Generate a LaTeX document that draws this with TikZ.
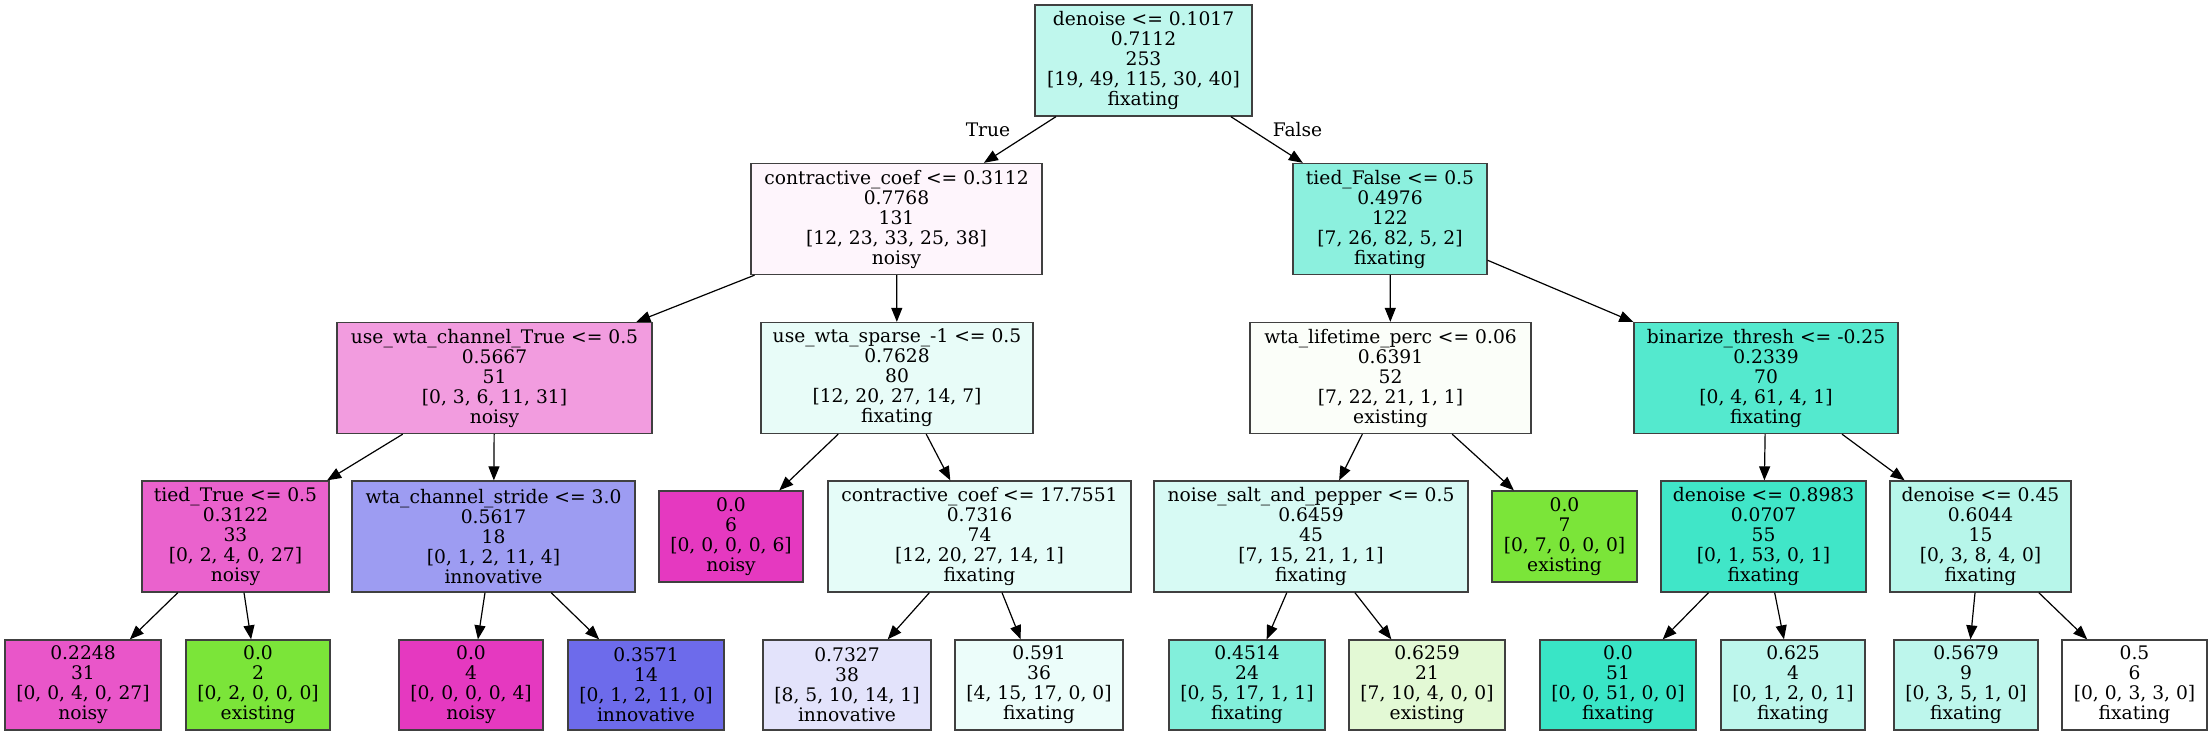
\documentclass[tikz,border=0pt]{standalone}
\usepackage{fontspec}
\setmainfont{DejaVu Serif}
\usetikzlibrary{arrows.meta}
\definecolor{fixc}{RGB}{57,229,198}
\definecolor{noic}{RGB}{229,57,192}
\definecolor{exic}{RGB}{123,229,57}
\definecolor{innc}{RGB}{60,57,229}
\begin{document}
\begin{tikzpicture}[x=1pt,y=-1pt,
  box/.style={draw=black!75, line width=1.3pt, inner sep=0pt, align=center,
    font=\fontsize{18.67}{20}\selectfont, minimum height=111pt},
  leaf/.style={box, minimum height=90pt},
  edge/.style={line width=1.2pt, -{Triangle[length=14pt,width=11pt]}},
  lbl/.style={font=\fontsize{18.67}{20}\selectfont, inner sep=0pt}]
\useasboundingbox (0,0) rectangle (2211,736);
% level 0
\node[box, minimum width=217pt, fill=fixc!32.4!white] (n0) at (1143.5,60.5)
  {denoise <= 0.1017\\0.7112\\253\\{}[19, 49, 115, 30, 40]\\fixating};
% level 1
\node[box, minimum width=291pt, fill=noic!5.1!white] (cc1) at (896.5,219)
  {contractive\_coef <= 0.3112\\0.7768\\131\\{}[12, 23, 33, 25, 38]\\noisy};
\node[box, minimum width=194pt, fill=fixc!58.3!white] (tf) at (1390,219)
  {tied\_False <= 0.5\\0.4976\\122\\{}[7, 26, 82, 5, 2]\\fixating};
% level 2
\node[box, minimum width=315pt, fill=noic!50!white] (uwc) at (494.5,378)
  {use\_wta\_channel\_True <= 0.5\\0.5667\\51\\{}[0, 3, 6, 11, 31]\\noisy};
\node[box, minimum width=272pt, fill=fixc!11.7!white] (uws) at (897,378)
  {use\_wta\_sparse\_-1 <= 0.5\\0.7628\\80\\{}[12, 20, 27, 14, 7]\\fixating};
\node[box, minimum width=281pt, fill=exic!3.2!white] (wlp) at (1390.5,378)
  {wta\_lifetime\_perc <= 0.06\\0.6391\\52\\{}[7, 22, 21, 1, 1]\\existing};
\node[box, minimum width=264pt, fill=fixc!86.4!white] (bt) at (1766,378)
  {binarize\_thresh <= -0.25\\0.2339\\70\\{}[0, 4, 61, 4, 1]\\fixating};
% level 3
\node[box, minimum width=187pt, fill=noic!79.3!white] (tt) at (235.5,536.5)
  {tied\_True <= 0.5\\0.3122\\33\\{}[0, 2, 4, 0, 27]\\noisy};
\node[box, minimum width=283pt, fill=innc!50!white] (wcs) at (493.5,536.5)
  {wta\_channel\_stride <= 3.0\\0.5617\\18\\{}[0, 1, 2, 11, 4]\\innovative};
\node[leaf, minimum width=144pt, minimum height=91pt, fill=noic] (l06) at (731,536.5)
  {0.0\\6\\{}[0, 0, 0, 0, 6]\\noisy};
\node[box, minimum width=303pt, fill=fixc!13!white] (cc2) at (979.5,536.5)
  {contractive\_coef <= 17.7551\\0.7316\\74\\{}[12, 20, 27, 14, 1]\\fixating};
\node[box, minimum width=314pt, fill=fixc!20!white] (nsp) at (1311,536.5)
  {noise\_salt\_and\_pepper <= 0.5\\0.6459\\45\\{}[7, 15, 21, 1, 1]\\fixating};
\node[leaf, minimum width=145pt, minimum height=91pt, fill=exic] (l07) at (1564.5,536.5)
  {0.0\\7\\{}[0, 7, 0, 0, 0]\\existing};
\node[box, minimum width=205pt, fill=fixc!96.3!white] (d1) at (1763.5,536.5)
  {denoise <= 0.8983\\0.0707\\55\\{}[0, 1, 53, 0, 1]\\fixating};
\node[box, minimum width=181pt, fill=fixc!36.4!white] (d2) at (1980.5,536.5)
  {denoise <= 0.45\\0.6044\\15\\{}[0, 3, 8, 4, 0]\\fixating};
% level 4
\node[leaf, minimum width=156pt, fill=noic!85.2!white] (a1) at (83,685)
  {0.2248\\31\\{}[0, 0, 4, 0, 27]\\noisy};
\node[leaf, minimum width=144pt, fill=exic] (a2) at (258,685)
  {0.0\\2\\{}[0, 2, 0, 0, 0]\\existing};
\node[leaf, minimum width=144pt, fill=noic] (a3) at (471,685)
  {0.0\\4\\{}[0, 0, 0, 0, 4]\\noisy};
\node[leaf, minimum width=156pt, fill=innc!75!white] (a4) at (646,685)
  {0.3571\\14\\{}[0, 1, 2, 11, 0]\\innovative};
\node[leaf, minimum width=168pt, fill=innc!14.3!white] (a5) at (847,685)
  {0.7327\\38\\{}[8, 5, 10, 14, 1]\\innovative};
\node[leaf, minimum width=168pt, fill=fixc!9.5!white] (a6) at (1039,685)
  {0.591\\36\\{}[4, 15, 17, 0, 0]\\fixating};
\node[leaf, minimum width=156pt, fill=fixc!63.2!white] (a7) at (1247,685)
  {0.4514\\24\\{}[0, 5, 17, 1, 1]\\fixating};
\node[leaf, minimum width=156pt, fill=exic!21.4!white] (a8) at (1427,685)
  {0.6259\\21\\{}[7, 10, 4, 0, 0]\\existing};
\node[leaf, minimum width=156pt, fill=fixc] (a9) at (1618,685)
  {0.0\\51\\{}[0, 0, 51, 0, 0]\\fixating};
\node[leaf, minimum width=144pt, fill=fixc!33.3!white] (a10) at (1793,685)
  {0.625\\4\\{}[0, 1, 2, 0, 1]\\fixating};
\node[leaf, minimum width=144pt, fill=fixc!33.3!white] (a11) at (1966,685)
  {0.5679\\9\\{}[0, 3, 5, 1, 0]\\fixating};
\node[leaf, minimum width=145pt, fill=white] (a12) at (2134.5,685)
  {0.5\\6\\{}[0, 0, 3, 3, 0]\\fixating};
% edges
\draw[edge] (n0) -- (cc1);
\draw[edge] (n0) -- (tf);
\draw[edge] (cc1) -- (uwc);
\draw[edge] (cc1) -- (uws);
\draw[edge] (tf) -- (wlp);
\draw[edge] (tf) -- (bt);
\draw[edge] (uwc) -- (tt);
\draw[edge] (uwc) -- (wcs);
\draw[edge] (uws) -- (l06);
\draw[edge] (uws) -- (cc2);
\draw[edge] (wlp) -- (nsp);
\draw[edge] (wlp) -- (l07);
\draw[edge] (bt) -- (d1);
\draw[edge] (bt) -- (d2);
\draw[edge] (tt) -- (a1);
\draw[edge] (tt) -- (a2);
\draw[edge] (wcs) -- (a3);
\draw[edge] (wcs) -- (a4);
\draw[edge] (cc2) -- (a5);
\draw[edge] (cc2) -- (a6);
\draw[edge] (nsp) -- (a7);
\draw[edge] (nsp) -- (a8);
\draw[edge] (d1) -- (a9);
\draw[edge] (d1) -- (a10);
\draw[edge] (d2) -- (a11);
\draw[edge] (d2) -- (a12);
% edge labels
\node[lbl] (ltrue) at (988,130) {True};
\node[lbl] (lfalse) at (1297.5,130) {False};
\end{tikzpicture}
\end{document}
